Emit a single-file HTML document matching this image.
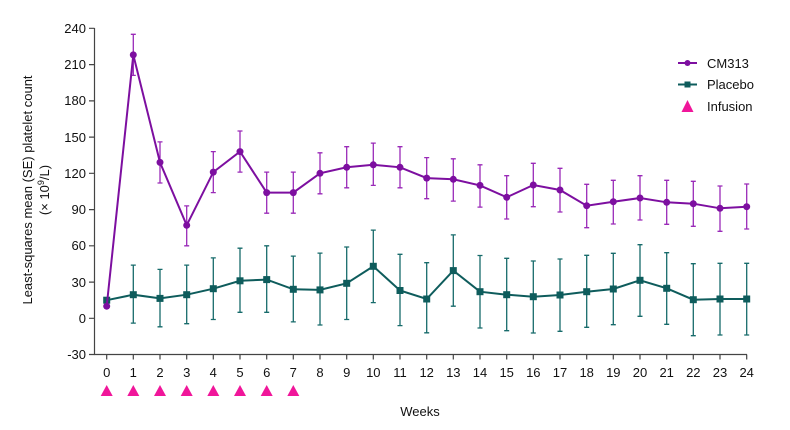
<!DOCTYPE html>
<html><head><meta charset="utf-8"><style>
body{margin:0;background:#fff}
svg{display:block;font-family:"Liberation Sans",Arial,sans-serif}
</style></head><body>
<svg width="790" height="430" viewBox="0 0 790 430">
<g stroke="#444" stroke-width="1.2" fill="none">
<path d="M94.5 28 V354.5 H747"/>
<path d="M89 28.3h5.5M89 64.6h5.5M89 100.9h5.5M89 137.1h5.5M89 173.3h5.5M89 209.6h5.5M89 245.8h5.5M89 282.1h5.5M89 318.3h5.5M89 354.5h5.5"/>
<path d="M106.7 354.5v5M133.3 354.5v5M160 354.5v5M186.7 354.5v5M213.3 354.5v5M240 354.5v5M266.7 354.5v5M293.3 354.5v5M320 354.5v5M346.7 354.5v5M373.3 354.5v5M400 354.5v5M426.7 354.5v5M453.3 354.5v5M480 354.5v5M506.7 354.5v5M533.3 354.5v5M560 354.5v5M586.7 354.5v5M613.3 354.5v5M640 354.5v5M666.7 354.5v5M693.3 354.5v5M720 354.5v5M746.7 354.5v5"/>
</g>
<g font-size="13" fill="#111" text-anchor="end">
<text x="86" y="33">240</text><text x="86" y="69">210</text><text x="86" y="105">180</text><text x="86" y="142">150</text><text x="86" y="178">120</text><text x="86" y="214">90</text><text x="86" y="250">60</text><text x="86" y="287">30</text><text x="86" y="323">0</text><text x="86" y="359">-30</text>
</g>
<g font-size="13" fill="#111" text-anchor="middle">
<text x="106.7" y="377">0</text><text x="133.3" y="377">1</text><text x="160" y="377">2</text><text x="186.7" y="377">3</text><text x="213.3" y="377">4</text><text x="240" y="377">5</text><text x="266.7" y="377">6</text><text x="293.3" y="377">7</text><text x="320" y="377">8</text><text x="346.7" y="377">9</text><text x="373.3" y="377">10</text><text x="400" y="377">11</text><text x="426.7" y="377">12</text><text x="453.3" y="377">13</text><text x="480" y="377">14</text><text x="506.7" y="377">15</text><text x="533.3" y="377">16</text><text x="560" y="377">17</text><text x="586.7" y="377">18</text><text x="613.3" y="377">19</text><text x="640" y="377">20</text><text x="666.7" y="377">21</text><text x="693.3" y="377">22</text><text x="720" y="377">23</text><text x="746.7" y="377">24</text>
<text x="420" y="416">Weeks</text>
<text transform="translate(32,190) rotate(-90)">Least-squares mean (SE) platelet count</text>
<text transform="translate(49,190) rotate(-90)">(× 10<tspan font-size="9" dy="-5">9</tspan><tspan dy="5">/L)</tspan></text>
</g>
<g fill="#f0169a">
<path d="M100.7 396l6-11 6 11z"/><path d="M127.3 396l6-11 6 11z"/><path d="M154 396l6-11 6 11z"/><path d="M180.7 396l6-11 6 11z"/><path d="M207.3 396l6-11 6 11z"/><path d="M234 396l6-11 6 11z"/><path d="M260.7 396l6-11 6 11z"/><path d="M287.3 396l6-11 6 11z"/>
</g>
<!-- Placebo -->
<g stroke="#176b6b" stroke-width="1.3" fill="none">
<path d="M133.3 323.1V265.1M160 326.8V269.4M186.7 323.7V265.1M213.3 319.5V257.9M240 312.3V248.2M266.7 312.3V245.8M293.3 321.9V256.1M320 325V253.1M346.7 319.5V247M373.3 302.6V230.1M400 325.6V254.3M426.7 332.8V262.7M453.3 306.2V234.9M480 328V255.5M506.7 330.7V258.3M533.3 333V261M560 331.3V259M586.7 327.3V255.3M613.3 324.7V253.3M640 316.3V244.7M666.7 324.3V252.7M693.3 335.7V263.7M720 335V263.3M746.7 335V263.3
M130.8 323.1h5M130.8 265.1h5M157.5 326.8h5M157.5 269.4h5M184.2 323.7h5M184.2 265.1h5M210.8 319.5h5M210.8 257.9h5M237.5 312.3h5M237.5 248.2h5M264.2 312.3h5M264.2 245.8h5M290.8 321.9h5M290.8 256.1h5M317.5 325h5M317.5 253.1h5M344.2 319.5h5M344.2 247h5M370.8 302.6h5M370.8 230.1h5M397.5 325.6h5M397.5 254.3h5M424.2 332.8h5M424.2 262.7h5M450.8 306.2h5M450.8 234.9h5M477.5 328h5M477.5 255.5h5M504.2 330.7h5M504.2 258.3h5M530.8 333h5M530.8 261h5M557.5 331.3h5M557.5 259h5M584.2 327.3h5M584.2 255.3h5M610.8 324.7h5M610.8 253.3h5M637.5 316.3h5M637.5 244.7h5M664.2 324.3h5M664.2 252.7h5M690.8 335.7h5M690.8 263.7h5M717.5 335h5M717.5 263.3h5M744.2 335h5M744.2 263.3h5"/>
</g>
<polyline fill="none" stroke="#0e5c5c" stroke-width="2" points="106.7,300.2 133.3,294.7 160,298.4 186.7,294.7 213.3,288.7 240,280.8 266.7,279.6 293.3,289.3 320,289.9 346.7,283.3 373.3,266.3 400,290.5 426.7,299 453.3,270.6 480,291.7 506.7,294.7 533.3,296.7 560,295 586.7,291.7 613.3,289 640,280.3 666.7,288.3 693.3,299.7 720,299 746.7,299"/>
<g fill="#0e5c5c">
<rect x="103.2" y="296.7" width="7" height="7"/><rect x="129.8" y="291.2" width="7" height="7"/><rect x="156.5" y="294.9" width="7" height="7"/><rect x="183.2" y="291.2" width="7" height="7"/><rect x="209.8" y="285.2" width="7" height="7"/><rect x="236.5" y="277.3" width="7" height="7"/><rect x="263.2" y="276.1" width="7" height="7"/><rect x="289.8" y="285.8" width="7" height="7"/><rect x="316.5" y="286.4" width="7" height="7"/><rect x="343.2" y="279.8" width="7" height="7"/><rect x="369.8" y="262.8" width="7" height="7"/><rect x="396.5" y="287" width="7" height="7"/><rect x="423.2" y="295.5" width="7" height="7"/><rect x="449.8" y="267.1" width="7" height="7"/><rect x="476.5" y="288.2" width="7" height="7"/><rect x="503.2" y="291.2" width="7" height="7"/><rect x="529.8" y="293.2" width="7" height="7"/><rect x="556.5" y="291.5" width="7" height="7"/><rect x="583.2" y="288.2" width="7" height="7"/><rect x="609.8" y="285.5" width="7" height="7"/><rect x="636.5" y="276.8" width="7" height="7"/><rect x="663.2" y="284.8" width="7" height="7"/><rect x="689.8" y="296.2" width="7" height="7"/><rect x="716.5" y="295.5" width="7" height="7"/><rect x="743.2" y="295.5" width="7" height="7"/>
</g>
<!-- CM313 -->
<g stroke="#9a2ab8" stroke-width="1.3" fill="none">
<path d="M133.3 75.4V34.3M160 183V141.9M186.7 245.8V205.9M213.3 192.6V151.6M240 172.1V131M266.7 213.2V172.1M293.3 213.2V172.1M320 193.8V152.8M346.7 187.8V146.7M373.3 185.4V143.1M400 187.8V146.7M426.7 198.7V157.6M453.3 201.1V158.8M480 207.1V164.8M506.7 219V175.7M533.3 206.7V163.3M560 212V168.3M586.7 227.7V184.3M613.3 224V180.3M640 220V175.7M666.7 224.3V180.3M693.3 226.3V181.3M720 231.3V186M746.7 229V184
M130.8 75.4h5M130.8 34.3h5M157.5 183h5M157.5 141.9h5M184.2 245.8h5M184.2 205.9h5M210.8 192.6h5M210.8 151.6h5M237.5 172.1h5M237.5 131h5M264.2 213.2h5M264.2 172.1h5M290.8 213.2h5M290.8 172.1h5M317.5 193.8h5M317.5 152.8h5M344.2 187.8h5M344.2 146.7h5M370.8 185.4h5M370.8 143.1h5M397.5 187.8h5M397.5 146.7h5M424.2 198.7h5M424.2 157.6h5M450.8 201.1h5M450.8 158.8h5M477.5 207.1h5M477.5 164.8h5M504.2 219h5M504.2 175.7h5M530.8 206.7h5M530.8 163.3h5M557.5 212h5M557.5 168.3h5M584.2 227.7h5M584.2 184.3h5M610.8 224h5M610.8 180.3h5M637.5 220h5M637.5 175.7h5M664.2 224.3h5M664.2 180.3h5M690.8 226.3h5M690.8 181.3h5M717.5 231.3h5M717.5 186h5M744.2 229h5M744.2 184h5"/>
</g>
<polyline fill="none" stroke="#7d0fa0" stroke-width="2" points="106.7,306.2 133.3,54.9 160,162.4 186.7,225.3 213.3,172.1 240,151.6 266.7,192.6 293.3,192.6 320,173.3 346.7,167.3 373.3,164.8 400,167.3 426.7,178.1 453.3,179.3 480,185.4 506.7,197.3 533.3,185 560,190 586.7,205.7 613.3,201.7 640,198 666.7,202.3 693.3,203.7 720,208.3 746.7,206.7"/>
<g fill="#7d0fa0">
<circle cx="106.7" cy="306.2" r="3.5"/><circle cx="133.3" cy="54.9" r="3.5"/><circle cx="160" cy="162.4" r="3.5"/><circle cx="186.7" cy="225.3" r="3.5"/><circle cx="213.3" cy="172.1" r="3.5"/><circle cx="240" cy="151.6" r="3.5"/><circle cx="266.7" cy="192.6" r="3.5"/><circle cx="293.3" cy="192.6" r="3.5"/><circle cx="320" cy="173.3" r="3.5"/><circle cx="346.7" cy="167.3" r="3.5"/><circle cx="373.3" cy="164.8" r="3.5"/><circle cx="400" cy="167.3" r="3.5"/><circle cx="426.7" cy="178.1" r="3.5"/><circle cx="453.3" cy="179.3" r="3.5"/><circle cx="480" cy="185.4" r="3.5"/><circle cx="506.7" cy="197.3" r="3.5"/><circle cx="533.3" cy="185" r="3.5"/><circle cx="560" cy="190" r="3.5"/><circle cx="586.7" cy="205.7" r="3.5"/><circle cx="613.3" cy="201.7" r="3.5"/><circle cx="640" cy="198" r="3.5"/><circle cx="666.7" cy="202.3" r="3.5"/><circle cx="693.3" cy="203.7" r="3.5"/><circle cx="720" cy="208.3" r="3.5"/><circle cx="746.7" cy="206.7" r="3.5"/>
</g>
<!-- Legend -->
<path d="M678 63h19" stroke="#7d0fa0" stroke-width="2"/><circle cx="687.5" cy="63" r="3" fill="#7d0fa0"/>
<path d="M678 84.5h19" stroke="#0e5c5c" stroke-width="2"/><rect x="684.5" y="81.5" width="6" height="6" fill="#0e5c5c"/>
<path d="M681.5 112l6-12 6 12z" fill="#f0169a"/>
<g font-size="13" fill="#111"><text x="707" y="68">CM313</text><text x="707" y="89">Placebo</text><text x="707" y="111">Infusion</text></g>
</svg>
</body></html>
